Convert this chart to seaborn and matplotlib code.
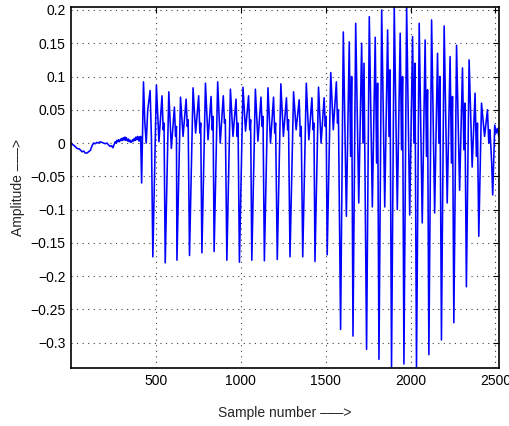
import matplotlib
matplotlib.use("Agg")
import matplotlib.pyplot as plt
import seaborn as sns
import pandas as pd

# ---- data ----
# unvoiced lead-in and onset (sample index, amplitude)
lead_n = [1, 8, 20, 35, 50, 65, 75, 84, 94, 104, 114, 124, 133, 143, 153, 162,
          172, 182, 192, 202, 212, 222, 231, 239, 247, 254, 261, 266, 270, 275,
          280, 284, 288, 292, 296, 300, 305, 309, 314, 318, 322, 326, 329, 334,
          339, 344, 349, 353, 358, 363, 368, 373, 378, 383, 388, 393, 398, 401,
          404, 407, 410,
          416, 427, 435, 443, 452, 466, 474]
lead_a = [0.0, -0.002, -0.004, -0.008, -0.009, -0.013, -0.012, -0.015, -0.015,
          -0.013, -0.011, -0.004, 0.0, -0.001, 0.001, 0.0, 0.002, 0.001, 0.0,
          -0.001, 0.0, -0.003, -0.005, -0.004, -0.007, -0.002, 0.002, 0.000,
          0.004, 0.002, 0.005, 0.002, 0.003, 0.006, 0.004, 0.007, 0.004, 0.008,
          0.005, 0.009, 0.004, 0.008, 0.006, 0.003, 0.006, 0.002, 0.004, 0.001,
          0.002, 0.005, 0.003, 0.007, 0.004, 0.009, 0.005, 0.010, 0.006, 0.003,
          0.009, 0.004, 0.010,
          -0.060, 0.092, 0.030, 0.000, 0.050, 0.079, 0.005]

# pitch cycles: trough position and the key amplitudes of each cycle
trough_n = [482, 555, 624, 698, 771, 843, 918, 992, 1065, 1139, 1215, 1290, 1365,
            1437, 1509, 1588, 1661, 1741, 1814, 1888, 1961, 2035, 2108, 2182,
            2255, 2329, 2402]
trough_a = [-0.171, -0.180, -0.176, -0.169, -0.165, -0.163, -0.176, -0.179,
            -0.176, -0.177, -0.175, -0.171, -0.171, -0.178, -0.168,
            -0.280, -0.290, -0.310, -0.325, -0.338, -0.332, -0.338, -0.318,
            -0.296, -0.270, -0.216, -0.140]
peak1_a = [0.087, 0.077, 0.069, 0.083, 0.090, 0.092, 0.081, 0.084, 0.081, 0.083,
           0.089, 0.077, 0.090, 0.084, 0.106,
           0.167, 0.180, 0.190, 0.200, 0.204, 0.204, 0.180, 0.185, 0.176, 0.147,
           0.125, 0.060]
dip_a = [0.002, -0.008, 0.010, 0.015, 0.005, 0.000, 0.010, 0.018, 0.003, 0.000,
         0.010, 0.020, 0.005, 0.000, 0.020,
         -0.110, -0.090, -0.096, -0.096, -0.100, -0.108, -0.120, -0.105, -0.090,
         -0.071, -0.036, 0.010]
peak2_a = [0.071, 0.054, 0.066, 0.071, 0.070, 0.071, 0.066, 0.071, 0.069, 0.069,
           0.068, 0.065, 0.068, 0.068, 0.092,
           0.152, 0.150, 0.159, 0.170, 0.165, 0.160, 0.155, 0.135, 0.130, 0.113,
           0.075, 0.050]
shoulder_a = [0.020, 0.010, 0.025, 0.015, 0.020, 0.030, 0.010, 0.020, 0.025,
              0.015, 0.020, 0.010, 0.020, 0.025, 0.030,
              -0.020, 0.000, -0.030, 0.010, -0.010, 0.000, -0.020, 0.000, -0.030,
              -0.010, -0.020, 0.000]
bump_a = [0.030, 0.025, 0.035, 0.030, 0.040, 0.035, 0.030, 0.035, 0.040,
          0.030, 0.035, 0.025, 0.030, 0.040, 0.050,
          0.100, 0.120, 0.090, 0.110, 0.100, 0.120, 0.080, 0.100, 0.070,
          0.060, 0.030, 0.020]
# sample offsets of peak1, dip, peak2, shoulder, bump inside a cycle
offsets_low = [21, 36, 54, 61, 66]
offsets_high = [16, 34, 51, 59, 65]
region_split = 1550

# decaying tail
tail_n = [2470, 2478, 2484, 2496, 2504, 2512, 2520]
tail_a = [0.010, -0.030, -0.078, 0.027, 0.015, 0.022, 0.010]

xtick_vals = [500, 1000, 1500, 2000, 2500]
ytick_vals = [0.2, 0.15, 0.1, 0.05, 0.0, -0.05, -0.1, -0.15, -0.2, -0.25, -0.3]
ytick_labels = ["0.2", "0.15", "0.1", "0.05", "0", "\u22120.05", "\u22120.1",
                "\u22120.15", "\u22120.2", "\u22120.25", "\u22120.3"]

# ---- assemble the waveform vertices ----
xs = list(lead_n)
ys = list(lead_a)
for i, t in enumerate(trough_n):
    off = offsets_low if t < region_split else offsets_high
    xs += [t] + [t + o for o in off]
    ys += [trough_a[i], peak1_a[i], dip_a[i], peak2_a[i], shoulder_a[i], bump_a[i]]
xs += tail_n
ys += tail_a
df = pd.DataFrame({"sample": xs, "amplitude": ys})

# ---- drawing ----
sns.set_style("white")
plt.rcParams["font.family"] = ["Liberation Sans", "DejaVu Sans"]
plt.rcParams["font.size"] = 10

fig = plt.figure(figsize=(5.09, 4.26), dpi=100)
ax = fig.add_axes([0.1395, 0.1362, 0.8405, 0.8474])
sns.lineplot(data=df, x="sample", y="amplitude", sort=False, estimator=None,
             color=(0, 0, 1), linewidth=1.15, ax=ax)

ax.set_xlim(0, 2520)
ax.set_ylim(-0.338, 0.2045)
ax.set_xticks(xtick_vals)
ax.set_xticklabels([str(v) for v in xtick_vals])
ax.set_yticks(ytick_vals)
ax.set_yticklabels(ytick_labels)
ax.grid(True, linestyle=(0, (1, 4)), color="0.25", linewidth=0.8)
ax.tick_params(direction="in", length=4, width=0.8, top=True, right=True,
               labelsize=10, pad=4, colors="black")
for s in ax.spines.values():
    s.set_color("black")
    s.set_linewidth(1.2)
ax.set_xlabel("Sample number \u2013\u2013\u2013>", fontsize=10, labelpad=13)
ax.set_ylabel("Amplitude \u2013\u2013\u2013>", fontsize=10, labelpad=4)

fig.savefig("out.png", dpi=100)
